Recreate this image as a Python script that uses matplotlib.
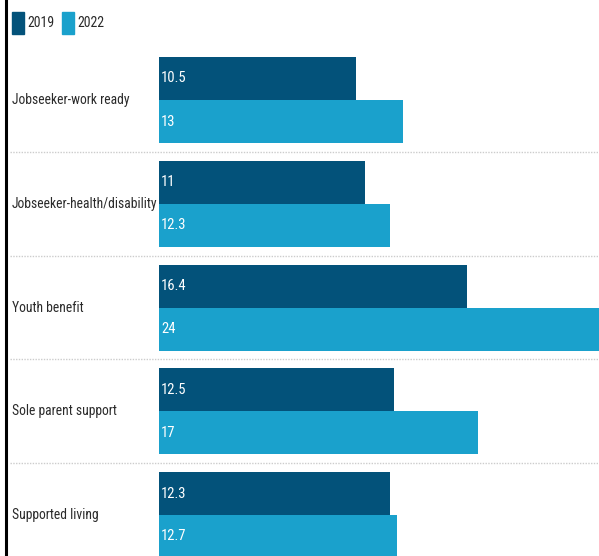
import matplotlib.pyplot as plt
import numpy as np
from matplotlib.patches import Rectangle
from matplotlib.lines import Line2D

categories = ["Jobseeker-work ready", "Jobseeker-health/disability",
              "Youth benefit", "Sole parent support", "Supported living"]
v2019 = [10.5, 11, 16.4, 12.5, 12.3]
v2022 = [13, 12.3, 24, 17, 12.7]
years = ["2019", "2022"]

c19 = "#03527a"
c22 = "#1aa1cc"
font = ["Roboto Condensed", "Liberation Sans Narrow", "DejaVu Sans"]

W, H = 599, 556
fig = plt.figure(figsize=(W / 100, H / 100), dpi=100)
ax = fig.add_axes([0, 0, 1, 1])
ax.axis("off")

px = 18.77  # pixels per unit
x0 = 159
ax.set_xlim(-x0 / px, (W - x0) / px)
step = 103.75
top = 100
ax.set_ylim((H - top) / step, -top / step)

y = np.arange(len(categories))
h = 43 / step
ax.barh(y - h / 2, v2019, height=h, color=c19, edgecolor="none")
ax.barh(y + h / 2, v2022, height=h, color=c22, edgecolor="none")

for i in range(len(categories)):
    ax.text(0.12, i - h / 2, f"{v2019[i]:g}", color="white", va="center",
            ha="left", fontsize=10.5, family=font)
    ax.text(0.12, i + h / 2, f"{v2022[i]:g}", color="white", va="center",
            ha="left", fontsize=10.5, family=font)
    ax.text(-(x0 - 12) / px, i, categories[i], color="#2a2a2a", va="center",
            ha="left", fontsize=9.8, family=font)
    if i > 0:
        ax.plot([-(x0 - 10) / px, (W - x0) / px], [i - 0.5, i - 0.5],
                color="#cccccc", lw=1, ls=(0, (1, 1)))

# legend
for k, (lab, c) in enumerate(zip(years, [c19, c22])):
    xs = 12 + k * 50
    fig.patches.append(Rectangle((xs / W, 1 - 34 / H), 12 / W, 22 / H,
                                 transform=fig.transFigure, color=c))
    fig.text((xs + 15) / W, 1 - 23 / H, lab, va="center", ha="left",
             fontsize=10, color="#2a2a2a", family=font)

fig.lines.append(Line2D([5.5 / W, 5.5 / W], [0, 1], transform=fig.transFigure,
                        color="black", lw=2.2))

fig.savefig("out.png", dpi=100)
